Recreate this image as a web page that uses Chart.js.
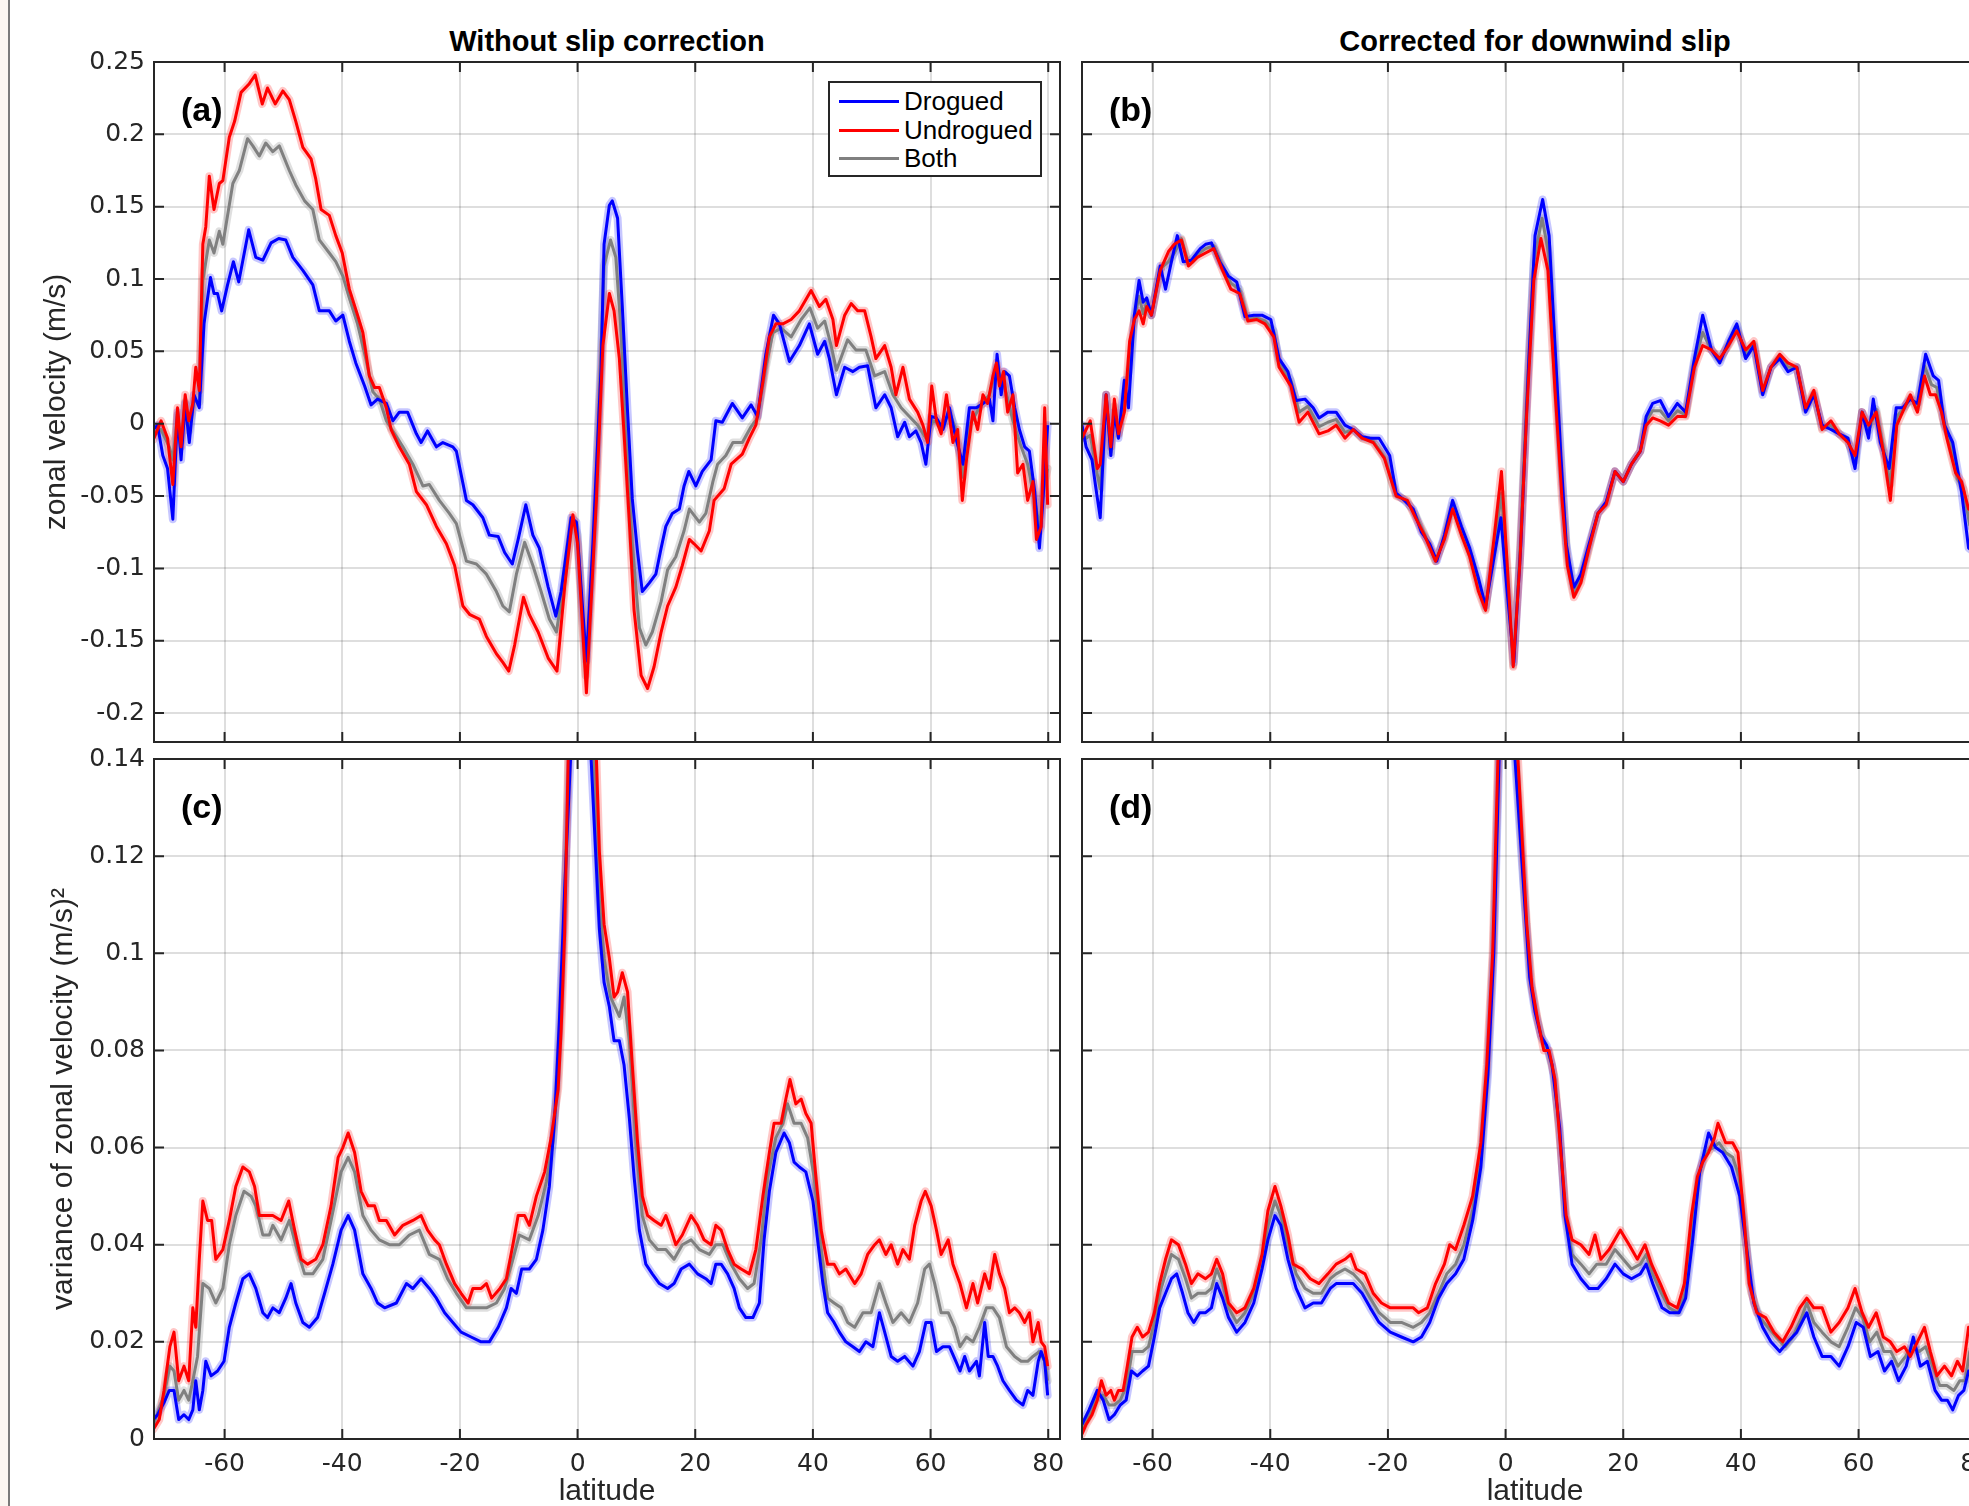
<!DOCTYPE html>
<html>
<head>
<meta charset="utf-8">
<title>Zonal velocity by latitude</title>
<script src="https://cdn.jsdelivr.net/npm/chart.js@4.4.1/dist/chart.umd.min.js"></script>
<style>
  html, body { margin: 0; padding: 0; overflow: hidden; }
  body { width: 1969px; height: 1506px; position: relative; background: #fff; font-family: "Liberation Sans", Arial, sans-serif; }
  canvas { position: absolute; }
  #strip { position: absolute; left: 0; top: 0; width: 8px; height: 1506px; background: #fbf6f1; border-right: 2px solid #7a7a7a; }
  .coltitle { position: absolute; top: 27px; width: 906px; text-align: center; font-weight: bold; font-size: 29px; line-height: 29px; color: #000; }
  #legend { position: absolute; left: 828px; top: 81px; width: 210px; height: 92px; border: 2px solid #262626; background: #fff; z-index: 5; }
  #legend .row { position: absolute; left: 0; height: 28px; line-height: 28px; font-size: 26px; color: #000; }
  #legend .swatch { position: absolute; left: 9px; width: 60px; height: 3px; top: 13px; }
  #legend .lab { position: absolute; left: 74px; white-space: nowrap; }
</style>
</head>
<body>
<div id="strip"></div>
<div class="coltitle" style="left:154px">Without slip correction</div>
<div class="coltitle" style="left:1082px">Corrected for downwind slip</div>

<canvas id="panelA" width="1070" height="750" style="left:0;top:0"></canvas>
<canvas id="panelB" width="926" height="750" style="left:1072px;top:0"></canvas>
<canvas id="panelC" width="1070" height="800" style="left:0;top:730px"></canvas>
<canvas id="panelD" width="926" height="800" style="left:1072px;top:730px"></canvas>

<div id="legend">
  <div class="row" style="top:4px"><span class="swatch" style="background:#0000ff"></span><span class="lab">Drogued</span></div>
  <div class="row" style="top:33px"><span class="swatch" style="background:#ff0000"></span><span class="lab">Undrogued</span></div>
  <div class="row" style="top:61px"><span class="swatch" style="background:#808080"></span><span class="lab">Both</span></div>
</div>

<script>
// axis ticks
const latTicks = [-60, -40, -20, 0, 20, 40, 60, 80];
const uTicks = [-0.2, -0.15, -0.1, -0.05, 0, 0.05, 0.1, 0.15, 0.2, 0.25];
const varTicks = [0, 0.02, 0.04, 0.06, 0.08, 0.1, 0.12, 0.14];

// colours: drogued, undrogued, both
const lineColors = ['#0000ff', '#ff0000', '#808080'];
const bandColors = ['rgba(0,0,255,0.22)', 'rgba(255,0,0,0.22)', 'rgba(128,128,128,0.25)'];
const lineOrder = [2, 1, 3]; // red on top, then blue, gray at the bottom

// ---- (a) zonal velocity, no slip correction: [latitude, m/s]
const droguedA = [[-72.1,-0.004],[-71.4,-0.001],[-70.5,-0.022],[-69.7,-0.031],[-68.8,-0.066],[-68.0,0.008],[-67.4,-0.025],[-66.7,0.014],[-66.0,-0.013],[-65.2,0.020],[-64.3,0.011],[-63.5,0.069],[-62.4,0.101],[-61.8,0.090],[-61.2,0.090],[-60.5,0.078],[-59.5,0.096],[-58.5,0.112],[-57.6,0.098],[-55.9,0.134],[-54.7,0.115],[-53.5,0.113],[-52.1,0.125],[-50.8,0.128],[-49.6,0.127],[-48.4,0.115],[-46.7,0.106],[-45.0,0.096],[-43.9,0.078],[-42.2,0.078],[-41.1,0.071],[-39.9,0.075],[-38.8,0.057],[-37.7,0.042],[-36.2,0.026],[-35.1,0.013],[-34.0,0.017],[-32.5,0.014],[-31.4,0.002],[-30.3,0.008],[-28.9,0.008],[-27.4,-0.007],[-26.6,-0.013],[-25.5,-0.005],[-24.0,-0.016],[-22.9,-0.013],[-21.2,-0.016],[-20.6,-0.019],[-18.9,-0.053],[-17.8,-0.056],[-16.1,-0.065],[-15.0,-0.077],[-13.5,-0.078],[-12.4,-0.089],[-11.1,-0.097],[-10.1,-0.080],[-8.8,-0.056],[-7.6,-0.077],[-6.5,-0.086],[-5.0,-0.113],[-3.7,-0.133],[-2.8,-0.116],[-1.1,-0.065],[-0.2,-0.068],[1.5,-0.164],[2.6,-0.083],[4.0,0.039],[4.5,0.124],[5.4,0.151],[5.9,0.154],[6.8,0.142],[7.6,0.081],[8.5,0.008],[9.3,-0.052],[10.2,-0.089],[11.0,-0.116],[12.2,-0.110],[13.3,-0.104],[14.2,-0.086],[15.0,-0.071],[16.1,-0.062],[17.3,-0.059],[18.1,-0.043],[18.9,-0.033],[20.1,-0.043],[21.2,-0.033],[22.7,-0.025],[23.5,0.002],[24.6,0.001],[26.3,0.014],[28.0,0.004],[29.5,0.013],[30.6,0.005],[32.0,0.048],[33.3,0.075],[34.3,0.069],[36.0,0.043],[37.7,0.054],[39.4,0.069],[40.8,0.048],[42.0,0.057],[42.8,0.045],[44.0,0.020],[45.4,0.039],[46.8,0.036],[47.9,0.039],[49.3,0.040],[50.7,0.011],[52.2,0.020],[53.3,0.011],[54.4,-0.009],[55.6,0.001],[56.4,-0.009],[57.5,-0.005],[58.4,-0.013],[59.2,-0.028],[60.1,0.005],[61.0,0.004],[62.1,-0.004],[63.2,0.011],[64.3,-0.010],[65.5,-0.028],[66.6,0.011],[67.8,0.011],[68.9,0.014],[70.0,0.017],[70.6,0.002],[71.3,0.048],[72.0,0.020],[72.6,0.036],[73.4,0.033],[74.3,0.011],[75.1,-0.004],[76.0,-0.016],[76.8,-0.019],[77.7,-0.047],[78.5,-0.086],[79.1,-0.053],[79.9,-0.001]];
const undroguedA = [[-72.1,-0.011],[-70.8,0.002],[-69.7,-0.010],[-68.8,-0.042],[-68.0,0.011],[-67.4,-0.016],[-66.7,0.020],[-66.1,0.002],[-65.4,0.014],[-64.9,0.039],[-64.3,0.023],[-63.7,0.124],[-63.2,0.136],[-62.6,0.171],[-61.8,0.148],[-60.9,0.166],[-60.3,0.168],[-59.2,0.198],[-58.3,0.209],[-57.2,0.229],[-55.8,0.235],[-54.8,0.241],[-53.6,0.221],[-52.7,0.232],[-51.4,0.221],[-50.1,0.230],[-49.0,0.224],[-47.9,0.209],[-46.7,0.191],[-45.3,0.183],[-44.5,0.169],[-43.6,0.148],[-42.2,0.144],[-41.1,0.130],[-40.0,0.118],[-38.8,0.093],[-37.4,0.075],[-36.5,0.063],[-35.4,0.033],[-34.5,0.025],[-33.7,0.025],[-32.5,0.011],[-31.7,-0.004],[-30.3,-0.016],[-28.6,-0.028],[-27.4,-0.047],[-25.7,-0.056],[-24.0,-0.071],[-22.3,-0.083],[-20.9,-0.098],[-19.5,-0.126],[-18.3,-0.132],[-16.7,-0.135],[-15.5,-0.147],[-13.8,-0.159],[-12.7,-0.165],[-11.7,-0.171],[-10.7,-0.153],[-9.2,-0.120],[-8.2,-0.132],[-6.7,-0.144],[-5.0,-0.162],[-3.5,-0.171],[-2.2,-0.113],[-0.8,-0.063],[0.0,-0.083],[1.5,-0.186],[3.2,-0.053],[4.3,0.054],[5.4,0.090],[6.2,0.078],[7.1,0.045],[7.9,-0.007],[8.8,-0.068],[9.6,-0.129],[10.8,-0.174],[11.9,-0.183],[13.0,-0.168],[14.2,-0.144],[15.3,-0.126],[16.7,-0.113],[17.8,-0.098],[19.0,-0.080],[19.8,-0.083],[21.0,-0.088],[22.4,-0.074],[23.2,-0.053],[24.9,-0.045],[26.1,-0.028],[28.0,-0.021],[29.2,-0.010],[30.3,-0.001],[31.5,0.029],[32.6,0.060],[33.7,0.069],[34.9,0.069],[36.3,0.072],[37.7,0.078],[39.7,0.092],[41.1,0.081],[42.2,0.086],[43.4,0.072],[44.0,0.054],[45.4,0.075],[46.5,0.083],[47.6,0.078],[48.8,0.078],[49.9,0.060],[50.7,0.045],[52.2,0.054],[53.3,0.039],[54.1,0.020],[55.3,0.039],[56.4,0.017],[57.8,0.008],[58.7,-0.001],[59.5,-0.013],[60.2,0.026],[61.0,0.002],[61.8,-0.007],[62.7,0.020],[63.8,-0.013],[64.6,-0.004],[65.4,-0.053],[66.1,-0.025],[67.2,0.008],[68.0,-0.004],[68.9,0.020],[69.7,0.014],[70.6,0.033],[71.2,0.042],[71.7,0.026],[72.4,0.036],[73.1,0.008],[74.0,0.020],[74.8,-0.034],[75.7,-0.028],[76.5,-0.053],[77.4,-0.040],[78.0,-0.080],[78.8,-0.071],[79.4,0.011],[79.9,-0.056]];
const bothA = [[-72.1,-0.006],[-70.8,-0.004],[-69.4,-0.016],[-68.8,-0.025],[-68.0,0.006],[-67.4,-0.012],[-66.7,0.015],[-66.0,-0.005],[-65.2,0.016],[-64.3,0.015],[-63.7,0.099],[-62.6,0.127],[-61.8,0.118],[-60.9,0.133],[-60.3,0.124],[-58.6,0.166],[-57.5,0.175],[-56.1,0.197],[-55.2,0.192],[-54.1,0.185],[-53.0,0.194],[-51.8,0.188],[-50.7,0.192],[-49.0,0.175],[-47.9,0.165],[-46.4,0.154],[-45.0,0.148],[-43.9,0.127],[-42.2,0.118],[-41.1,0.112],[-39.9,0.102],[-38.8,0.087],[-37.4,0.069],[-36.0,0.045],[-34.8,0.022],[-33.7,0.017],[-32.5,0.002],[-31.4,-0.005],[-29.7,-0.016],[-28.0,-0.028],[-26.3,-0.043],[-25.2,-0.042],[-23.5,-0.053],[-21.8,-0.062],[-20.6,-0.069],[-18.9,-0.095],[-17.2,-0.097],[-15.5,-0.104],[-13.8,-0.116],[-12.7,-0.126],[-11.6,-0.130],[-10.4,-0.104],[-9.0,-0.082],[-7.6,-0.098],[-6.2,-0.116],[-4.8,-0.135],[-3.6,-0.144],[-2.2,-0.107],[-0.8,-0.065],[0.0,-0.077],[1.4,-0.174],[2.9,-0.068],[4.5,0.109],[5.6,0.127],[6.5,0.115],[7.4,0.063],[8.2,-0.007],[9.3,-0.083],[10.5,-0.141],[11.6,-0.153],[12.7,-0.144],[14.2,-0.123],[15.3,-0.101],[16.7,-0.092],[18.1,-0.074],[19.0,-0.059],[20.7,-0.068],[21.8,-0.062],[23.0,-0.040],[23.8,-0.028],[25.2,-0.022],[26.4,-0.013],[28.0,-0.013],[29.5,-0.002],[30.6,0.004],[32.0,0.039],[33.2,0.063],[34.6,0.066],[36.3,0.060],[38.0,0.072],[39.5,0.080],[40.8,0.066],[42.0,0.071],[43.1,0.054],[44.0,0.037],[45.9,0.058],[47.3,0.051],[49.0,0.051],[50.5,0.033],[52.2,0.036],[53.6,0.020],[55.0,0.011],[56.4,0.005],[57.8,-0.001],[59.2,-0.010],[60.4,0.002],[62.1,-0.001],[63.2,0.008],[64.3,-0.004],[65.5,-0.037],[66.6,-0.001],[68.3,0.011],[70.0,0.020],[71.2,0.039],[72.6,0.026],[74.0,0.002],[75.4,-0.016],[76.5,-0.028],[77.7,-0.053],[78.5,-0.071],[79.4,-0.040],[79.9,-0.031]];

// ---- (b) zonal velocity, corrected for downwind slip
const droguedB = [[-72.0,-0.001],[-71.3,-0.016],[-70.3,-0.025],[-69.7,-0.043],[-68.9,-0.065],[-67.9,0.020],[-67.1,-0.022],[-66.5,0.008],[-65.8,-0.010],[-64.8,0.030],[-64.1,0.011],[-63.1,0.075],[-62.3,0.099],[-61.6,0.084],[-61.0,0.087],[-60.2,0.075],[-58.7,0.109],[-57.8,0.093],[-56.8,0.112],[-55.8,0.130],[-54.8,0.112],[-53.4,0.113],[-51.9,0.121],[-51.0,0.124],[-50.0,0.125],[-48.6,0.112],[-47.1,0.102],[-45.7,0.098],[-44.3,0.074],[-42.8,0.075],[-41.4,0.075],[-39.9,0.072],[-38.5,0.045],[-37.0,0.036],[-35.6,0.016],[-34.1,0.017],[-32.7,0.011],[-31.7,0.004],[-30.2,0.008],[-28.8,0.008],[-27.3,-0.001],[-25.9,-0.004],[-24.4,-0.009],[-23.0,-0.010],[-21.5,-0.010],[-19.7,-0.022],[-18.6,-0.048],[-17.2,-0.053],[-15.7,-0.059],[-14.3,-0.075],[-12.9,-0.083],[-11.7,-0.095],[-10.4,-0.077],[-9.0,-0.053],[-7.5,-0.071],[-6.1,-0.086],[-4.6,-0.107],[-3.4,-0.126],[-2.2,-0.098],[-0.8,-0.065],[0.2,-0.113],[1.4,-0.165],[2.6,-0.083],[3.9,0.039],[5.0,0.130],[6.3,0.155],[7.4,0.130],[8.4,0.054],[9.4,-0.022],[10.3,-0.083],[11.6,-0.113],[12.8,-0.104],[14.2,-0.083],[15.7,-0.062],[17.1,-0.054],[18.6,-0.033],[20.0,-0.040],[21.4,-0.028],[22.9,-0.019],[23.9,0.005],[25.0,0.014],[26.3,0.016],[27.7,0.005],[29.2,0.014],[30.6,0.008],[32.1,0.045],[33.5,0.075],[35.0,0.051],[36.4,0.042],[37.9,0.057],[39.3,0.069],[40.8,0.045],[42.2,0.054],[43.7,0.020],[45.1,0.039],[46.6,0.045],[48.0,0.036],[49.5,0.039],[51.0,0.008],[52.4,0.020],[53.8,-0.001],[55.3,-0.004],[56.7,-0.007],[58.2,-0.010],[59.4,-0.031],[60.6,0.008],[61.7,-0.010],[62.5,0.017],[63.7,-0.013],[65.2,-0.031],[66.4,0.011],[67.5,0.011],[68.8,0.017],[70.0,0.014],[71.4,0.048],[72.7,0.033],[73.6,0.030],[74.6,-0.001],[76.0,-0.013],[77.5,-0.047],[78.7,-0.086],[80.0,-0.090]];
const undroguedB = [[-72.0,-0.010],[-71.3,-0.004],[-70.6,0.002],[-69.4,-0.031],[-68.9,-0.028],[-67.9,0.020],[-67.1,-0.016],[-66.5,0.017],[-65.8,-0.007],[-64.8,0.008],[-63.9,0.057],[-63.1,0.072],[-62.3,0.078],[-61.6,0.069],[-61.0,0.081],[-60.2,0.075],[-58.7,0.106],[-57.3,0.119],[-56.3,0.124],[-55.1,0.127],[-53.9,0.109],[-52.4,0.115],[-51.0,0.118],[-49.6,0.121],[-48.1,0.106],[-46.7,0.093],[-45.2,0.090],[-43.8,0.071],[-42.3,0.072],[-40.9,0.069],[-39.4,0.060],[-38.5,0.039],[-36.5,0.026],[-35.1,0.001],[-33.6,0.008],[-31.7,-0.007],[-30.2,-0.005],[-28.8,-0.001],[-27.3,-0.010],[-25.9,-0.004],[-24.4,-0.010],[-22.5,-0.013],[-20.6,-0.024],[-18.6,-0.050],[-16.7,-0.053],[-15.3,-0.065],[-13.8,-0.077],[-11.9,-0.095],[-10.4,-0.080],[-9.0,-0.059],[-7.5,-0.077],[-6.1,-0.092],[-4.6,-0.116],[-3.4,-0.129],[-1.9,-0.077],[-0.7,-0.033],[0.2,-0.092],[1.3,-0.168],[2.4,-0.098],[3.6,0.008],[4.8,0.099],[6.0,0.128],[7.2,0.106],[8.4,0.023],[9.6,-0.053],[10.5,-0.098],[11.6,-0.120],[12.8,-0.110],[14.2,-0.086],[15.7,-0.062],[17.1,-0.056],[18.6,-0.033],[20.0,-0.040],[21.4,-0.028],[22.9,-0.019],[23.9,-0.001],[25.0,0.004],[26.3,0.002],[27.7,-0.001],[29.2,0.005],[30.6,0.005],[32.1,0.039],[33.5,0.054],[35.0,0.051],[36.4,0.045],[37.9,0.054],[39.3,0.064],[40.8,0.051],[42.2,0.057],[43.7,0.023],[45.1,0.039],[46.6,0.048],[48.0,0.042],[49.5,0.039],[51.0,0.011],[52.4,0.023],[53.8,-0.004],[55.3,0.002],[56.7,-0.007],[58.2,-0.013],[59.4,-0.022],[60.6,0.008],[61.7,-0.001],[63.0,0.008],[64.2,-0.019],[65.4,-0.053],[66.5,-0.001],[67.8,0.011],[68.8,0.020],[70.0,0.008],[71.2,0.033],[72.2,0.020],[73.1,0.020],[74.1,0.008],[75.0,-0.010],[76.5,-0.034],[77.5,-0.040],[78.7,-0.059],[80.0,-0.062]];
const bothB = [[-72.0,-0.008],[-71.3,-0.010],[-70.6,-0.008],[-69.4,-0.035],[-68.9,-0.045],[-67.9,0.020],[-67.1,-0.020],[-66.5,0.012],[-65.8,-0.008],[-64.8,0.020],[-63.9,0.040],[-63.1,0.073],[-62.3,0.088],[-61.6,0.076],[-61.0,0.084],[-60.2,0.075],[-58.7,0.107],[-57.3,0.112],[-56.3,0.118],[-55.1,0.128],[-53.9,0.111],[-52.4,0.117],[-51.0,0.121],[-49.6,0.123],[-48.1,0.109],[-46.7,0.097],[-45.2,0.093],[-43.8,0.072],[-42.3,0.073],[-40.9,0.071],[-39.4,0.064],[-38.5,0.042],[-36.5,0.030],[-35.1,0.008],[-33.6,0.012],[-31.7,-0.002],[-30.2,0.001],[-28.8,0.003],[-27.3,-0.006],[-25.9,-0.004],[-24.4,-0.010],[-22.5,-0.012],[-20.6,-0.023],[-18.6,-0.049],[-16.7,-0.054],[-15.3,-0.063],[-13.8,-0.076],[-11.9,-0.095],[-10.4,-0.079],[-9.0,-0.056],[-7.5,-0.074],[-6.1,-0.089],[-4.6,-0.112],[-3.4,-0.128],[-1.9,-0.085],[-0.7,-0.048],[0.2,-0.100],[1.3,-0.167],[2.4,-0.092],[3.6,0.020],[4.8,0.112],[6.2,0.142],[7.3,0.118],[8.4,0.040],[9.6,-0.040],[10.5,-0.092],[11.6,-0.117],[12.8,-0.107],[14.2,-0.085],[15.7,-0.062],[17.1,-0.055],[18.6,-0.033],[20.0,-0.040],[21.4,-0.028],[22.9,-0.019],[23.9,0.002],[25.0,0.009],[26.3,0.009],[27.7,0.002],[29.2,0.009],[30.6,0.006],[32.1,0.042],[33.5,0.063],[35.0,0.051],[36.4,0.044],[37.9,0.055],[39.3,0.066],[40.8,0.048],[42.2,0.055],[43.7,0.022],[45.1,0.039],[46.6,0.046],[48.0,0.039],[49.5,0.039],[51.0,0.010],[52.4,0.021],[53.8,-0.003],[55.3,-0.001],[56.7,-0.007],[58.2,-0.012],[59.4,-0.026],[60.6,0.008],[61.7,-0.005],[63.0,0.010],[64.2,-0.016],[65.4,-0.042],[66.5,0.005],[67.8,0.011],[68.8,0.018],[70.0,0.011],[71.2,0.040],[72.4,0.027],[73.3,0.025],[74.3,0.004],[75.5,-0.011],[76.8,-0.038],[77.8,-0.045],[78.9,-0.070],[80.0,-0.075]];

// ---- (c) variance of zonal velocity, no slip correction: [latitude, (m/s)^2]
const droguedC = [[-72.1,0.004],[-71.4,0.005],[-70.3,0.0075],[-69.4,0.010],[-68.6,0.010],[-67.8,0.004],[-66.9,0.005],[-66.1,0.004],[-65.4,0.006],[-64.9,0.012],[-64.3,0.006],[-63.7,0.010],[-63.2,0.016],[-62.3,0.013],[-61.2,0.014],[-60.1,0.016],[-59.2,0.023],[-58.1,0.028],[-56.9,0.033],[-55.8,0.034],[-54.7,0.031],[-53.5,0.026],[-52.7,0.025],[-51.8,0.027],[-50.7,0.026],[-49.6,0.029],[-48.7,0.032],[-47.9,0.028],[-46.7,0.024],[-45.6,0.023],[-44.2,0.025],[-43.0,0.030],[-41.6,0.036],[-40.2,0.043],[-39.0,0.046],[-37.9,0.043],[-36.5,0.034],[-35.1,0.031],[-34.0,0.028],[-32.8,0.027],[-30.8,0.028],[-29.1,0.032],[-28.0,0.031],[-26.6,0.033],[-25.2,0.031],[-24.0,0.029],[-22.6,0.026],[-21.2,0.024],[-19.8,0.022],[-18.1,0.021],[-16.4,0.020],[-15.0,0.020],[-13.5,0.023],[-12.1,0.027],[-11.3,0.031],[-10.4,0.030],[-9.5,0.035],[-8.2,0.035],[-7.0,0.037],[-5.9,0.043],[-4.8,0.052],[-3.9,0.066],[-3.1,0.086],[-2.2,0.113],[-1.2,0.140],[0.5,0.300],[2.3,0.140],[3.7,0.105],[4.5,0.094],[5.4,0.089],[6.2,0.082],[7.1,0.082],[7.9,0.077],[8.8,0.066],[9.6,0.054],[10.5,0.043],[11.6,0.036],[12.7,0.034],[13.9,0.032],[15.3,0.031],[16.4,0.032],[17.6,0.035],[19.0,0.036],[20.4,0.034],[21.8,0.033],[22.7,0.032],[23.5,0.036],[24.4,0.036],[25.5,0.034],[26.6,0.031],[27.5,0.027],[28.6,0.025],[29.8,0.025],[30.9,0.028],[31.7,0.041],[32.6,0.051],[33.7,0.059],[35.1,0.063],[36.0,0.061],[36.8,0.057],[37.7,0.056],[38.8,0.055],[40.0,0.049],[40.8,0.041],[41.7,0.032],[42.5,0.026],[43.6,0.024],[44.5,0.022],[45.6,0.020],[46.8,0.019],[47.9,0.018],[49.0,0.020],[50.2,0.019],[51.3,0.026],[52.2,0.022],[53.3,0.017],[54.4,0.016],[55.6,0.017],[57.0,0.015],[58.1,0.018],[59.2,0.024],[60.1,0.024],[61.0,0.018],[62.1,0.019],[63.2,0.019],[64.3,0.016],[65.0,0.014],[65.8,0.017],[66.6,0.014],[67.8,0.016],[68.3,0.013],[69.2,0.024],[69.8,0.017],[70.6,0.017],[71.4,0.015],[72.3,0.012],[73.4,0.010],[74.6,0.008],[75.7,0.007],[76.5,0.010],[77.4,0.009],[78.3,0.016],[78.8,0.018],[79.4,0.016],[79.9,0.009]];
const undroguedC = [[-72.1,0.002],[-71.1,0.004],[-70.3,0.010],[-69.3,0.019],[-68.6,0.022],[-67.8,0.012],[-66.9,0.015],[-66.1,0.012],[-65.4,0.027],[-64.9,0.023],[-64.3,0.037],[-63.7,0.049],[-62.9,0.045],[-62.2,0.045],[-61.5,0.037],[-60.3,0.039],[-59.2,0.045],[-58.1,0.052],[-56.9,0.056],[-55.8,0.055],[-54.9,0.052],[-54.1,0.046],[-52.9,0.046],[-51.8,0.046],[-50.4,0.045],[-49.1,0.049],[-48.1,0.043],[-47.0,0.037],[-45.9,0.036],[-44.5,0.037],[-43.3,0.040],[-41.9,0.048],[-40.7,0.058],[-39.9,0.060],[-39.0,0.063],[-37.9,0.059],[-36.8,0.051],[-35.6,0.048],[-34.5,0.048],[-33.7,0.045],[-32.5,0.045],[-31.1,0.042],[-29.7,0.044],[-28.0,0.045],[-26.6,0.046],[-25.5,0.043],[-24.3,0.041],[-23.5,0.040],[-22.3,0.036],[-20.9,0.032],[-19.8,0.030],[-18.6,0.028],[-17.8,0.031],[-16.4,0.031],[-15.5,0.032],[-14.6,0.029],[-13.2,0.031],[-12.1,0.033],[-11.0,0.040],[-10.1,0.046],[-9.0,0.046],[-8.2,0.044],[-7.0,0.050],[-5.6,0.055],[-4.5,0.062],[-3.3,0.072],[-2.8,0.084],[-2.2,0.104],[-1.6,0.140],[-0.5,0.250],[1.0,0.300],[2.5,0.180],[3.2,0.140],[3.7,0.121],[4.5,0.106],[5.4,0.099],[6.2,0.091],[6.8,0.092],[7.6,0.096],[8.5,0.092],[9.3,0.077],[10.2,0.061],[11.0,0.050],[11.9,0.046],[13.0,0.045],[14.2,0.044],[15.0,0.046],[15.9,0.043],[16.7,0.040],[17.8,0.042],[19.3,0.046],[20.4,0.044],[21.5,0.041],[22.7,0.040],[23.5,0.044],[24.4,0.043],[25.5,0.039],[26.6,0.036],[27.8,0.035],[29.2,0.034],[30.3,0.039],[31.5,0.050],[32.6,0.059],[33.4,0.065],[34.6,0.065],[35.4,0.070],[36.1,0.074],[37.1,0.069],[38.0,0.070],[38.8,0.067],[39.7,0.065],[40.5,0.054],[41.4,0.043],[42.5,0.036],[43.6,0.036],[44.5,0.034],[45.6,0.035],[47.1,0.032],[48.2,0.034],[49.3,0.038],[50.5,0.040],[51.3,0.041],[52.4,0.038],[53.3,0.040],[54.4,0.036],[55.3,0.039],[56.4,0.037],[57.3,0.044],[58.4,0.049],[59.1,0.051],[60.1,0.048],[61.0,0.043],[61.8,0.038],[63.0,0.041],[63.8,0.036],[65.0,0.032],[66.1,0.027],[67.2,0.032],[68.0,0.028],[69.2,0.034],[70.0,0.031],[70.9,0.038],[71.7,0.034],[72.6,0.031],[73.4,0.026],[74.3,0.027],[75.1,0.026],[76.0,0.024],[76.8,0.026],[77.4,0.020],[78.3,0.024],[78.8,0.020],[79.4,0.019],[79.9,0.015]];
const bothC = [[-72.1,0.003],[-70.3,0.009],[-69.3,0.015],[-68.6,0.014],[-67.8,0.008],[-66.9,0.010],[-66.1,0.008],[-65.4,0.012],[-64.6,0.017],[-63.7,0.032],[-62.6,0.031],[-61.5,0.028],[-60.3,0.031],[-59.2,0.040],[-58.1,0.046],[-56.7,0.051],[-55.5,0.050],[-54.7,0.048],[-53.5,0.042],[-52.4,0.042],[-51.8,0.044],[-50.4,0.041],[-49.0,0.045],[-47.9,0.040],[-46.4,0.034],[-45.0,0.034],[-43.3,0.037],[-41.9,0.045],[-40.2,0.055],[-39.0,0.058],[-37.9,0.055],[-36.5,0.046],[-35.1,0.043],[-33.7,0.041],[-32.0,0.040],[-30.3,0.040],[-28.6,0.042],[-26.9,0.043],[-25.2,0.038],[-23.5,0.037],[-22.1,0.033],[-20.6,0.030],[-18.9,0.027],[-17.2,0.027],[-15.5,0.027],[-13.8,0.028],[-12.4,0.031],[-11.0,0.037],[-9.9,0.042],[-8.2,0.041],[-6.7,0.046],[-5.3,0.053],[-4.2,0.061],[-3.3,0.075],[-2.5,0.100],[-1.5,0.140],[0.7,0.300],[2.8,0.140],[3.7,0.111],[4.5,0.099],[5.6,0.091],[7.1,0.087],[7.9,0.091],[8.8,0.082],[9.9,0.061],[11.0,0.046],[12.2,0.041],[13.6,0.039],[15.0,0.039],[16.4,0.037],[17.8,0.040],[19.3,0.041],[20.7,0.039],[22.4,0.038],[23.5,0.040],[24.7,0.040],[26.1,0.036],[27.5,0.033],[28.9,0.031],[30.0,0.032],[31.2,0.041],[32.3,0.054],[33.7,0.062],[34.9,0.065],[35.7,0.069],[36.8,0.065],[38.0,0.065],[39.1,0.062],[40.2,0.054],[41.4,0.039],[42.5,0.029],[43.6,0.028],[44.8,0.027],[45.9,0.024],[47.1,0.023],[48.5,0.026],[49.9,0.026],[51.3,0.032],[52.4,0.028],[53.6,0.024],[55.0,0.026],[56.4,0.024],[57.8,0.028],[59.0,0.035],[59.8,0.036],[60.7,0.032],[61.8,0.026],[63.0,0.026],[64.1,0.023],[65.0,0.019],[66.1,0.021],[67.2,0.020],[68.3,0.023],[69.5,0.027],[70.6,0.027],[71.7,0.025],[72.9,0.019],[74.3,0.017],[75.4,0.016],[76.5,0.016],[77.4,0.017],[78.5,0.018],[79.4,0.016],[79.9,0.012]];

// ---- (d) variance of zonal velocity, corrected for downwind slip
const droguedD = [[-72.0,0.003],[-70.8,0.006],[-69.4,0.010],[-68.4,0.008],[-67.4,0.004],[-66.5,0.005],[-65.5,0.007],[-64.5,0.008],[-63.6,0.014],[-62.6,0.013],[-61.7,0.014],[-60.7,0.015],[-59.7,0.021],[-58.8,0.027],[-57.8,0.030],[-56.8,0.033],[-55.9,0.034],[-54.9,0.030],[-54.0,0.026],[-53.0,0.024],[-52.0,0.026],[-51.0,0.026],[-50.0,0.027],[-49.1,0.032],[-48.1,0.029],[-47.1,0.025],[-45.7,0.022],[-44.3,0.024],[-42.8,0.028],[-41.4,0.035],[-40.4,0.041],[-39.2,0.046],[-38.2,0.044],[-37.0,0.037],[-35.6,0.031],[-34.1,0.027],[-32.7,0.028],[-31.3,0.028],[-29.8,0.031],[-28.8,0.032],[-27.3,0.032],[-25.9,0.032],[-24.4,0.030],[-23.0,0.027],[-21.5,0.024],[-19.6,0.022],[-17.7,0.021],[-15.7,0.020],[-14.3,0.021],[-12.9,0.024],[-11.4,0.029],[-10.0,0.032],[-8.5,0.034],[-7.1,0.037],[-5.6,0.045],[-4.2,0.056],[-3.0,0.075],[-2.0,0.100],[-1.1,0.140],[0.3,0.300],[1.6,0.140],[3.1,0.113],[4.1,0.095],[5.0,0.088],[6.0,0.083],[7.0,0.081],[7.9,0.077],[9.2,0.064],[10.1,0.046],[11.3,0.036],[12.8,0.033],[14.2,0.031],[15.7,0.031],[17.1,0.033],[18.6,0.036],[20.0,0.034],[21.4,0.033],[22.9,0.034],[23.9,0.036],[25.0,0.032],[26.6,0.027],[27.9,0.026],[29.5,0.026],[30.6,0.029],[31.8,0.041],[33.0,0.055],[34.5,0.063],[35.7,0.060],[36.9,0.059],[38.4,0.056],[39.8,0.050],[41.1,0.038],[42.2,0.028],[43.7,0.023],[45.1,0.020],[46.6,0.018],[48.0,0.020],[49.5,0.022],[51.2,0.026],[52.4,0.021],[53.8,0.017],[55.3,0.017],[56.7,0.015],[58.2,0.019],[59.6,0.024],[60.8,0.023],[62.0,0.017],[63.3,0.018],[64.4,0.014],[65.6,0.016],[66.8,0.012],[68.1,0.015],[69.3,0.021],[70.5,0.015],[71.7,0.016],[73.0,0.010],[74.1,0.008],[75.1,0.008],[76.0,0.006],[77.0,0.009],[77.9,0.010],[78.7,0.014],[80.0,0.013]];
const undroguedD = [[-72.0,0.001],[-71.3,0.003],[-70.3,0.005],[-69.4,0.008],[-68.7,0.012],[-67.9,0.009],[-67.1,0.010],[-66.5,0.008],[-65.8,0.010],[-65.0,0.010],[-64.3,0.015],[-63.5,0.021],[-62.6,0.023],[-61.7,0.021],[-60.7,0.022],[-59.7,0.026],[-58.8,0.032],[-57.8,0.037],[-56.8,0.041],[-55.6,0.040],[-54.4,0.036],[-53.4,0.032],[-52.3,0.034],[-51.0,0.033],[-50.0,0.034],[-49.1,0.037],[-48.1,0.034],[-47.1,0.028],[-45.7,0.026],[-44.3,0.027],[-42.8,0.031],[-41.4,0.038],[-40.4,0.047],[-39.2,0.052],[-38.2,0.048],[-37.0,0.042],[-36.1,0.036],[-34.6,0.035],[-33.2,0.033],[-31.7,0.032],[-30.2,0.034],[-28.8,0.036],[-27.3,0.037],[-26.3,0.038],[-25.4,0.035],[-23.9,0.034],[-22.5,0.030],[-21.1,0.028],[-19.6,0.027],[-18.2,0.027],[-17.2,0.027],[-15.7,0.027],[-14.8,0.026],[-13.3,0.027],[-11.9,0.032],[-10.4,0.036],[-9.5,0.040],[-8.5,0.039],[-7.1,0.044],[-5.6,0.050],[-4.2,0.061],[-3.2,0.077],[-2.2,0.100],[-1.3,0.140],[0.2,0.300],[1.5,0.200],[2.1,0.140],[3.6,0.106],[4.5,0.093],[5.5,0.086],[6.5,0.080],[7.4,0.080],[8.4,0.074],[9.4,0.059],[10.3,0.046],[11.3,0.041],[12.8,0.040],[14.2,0.038],[15.2,0.042],[16.2,0.037],[17.6,0.039],[19.5,0.043],[21.0,0.040],[22.4,0.037],[23.7,0.040],[24.8,0.036],[26.3,0.032],[27.7,0.028],[29.2,0.027],[30.4,0.032],[31.6,0.046],[32.6,0.054],[33.5,0.057],[34.5,0.059],[35.5,0.062],[36.1,0.065],[37.4,0.061],[38.6,0.061],[39.5,0.059],[40.5,0.046],[41.4,0.032],[42.7,0.026],[44.2,0.025],[45.6,0.022],[47.1,0.020],[48.5,0.023],[50.0,0.027],[51.2,0.029],[52.4,0.027],[53.8,0.027],[55.3,0.022],[56.7,0.024],[58.2,0.027],[59.4,0.031],[60.6,0.026],[61.7,0.023],[63.0,0.026],[64.2,0.021],[65.4,0.020],[66.5,0.018],[67.8,0.019],[68.8,0.017],[70.0,0.020],[71.2,0.023],[72.2,0.018],[73.3,0.013],[74.6,0.015],[75.8,0.013],[76.8,0.016],[77.7,0.014],[78.7,0.023],[80.0,0.022]];
const bothD = [[-72.0,0.002],[-70.3,0.006],[-69.4,0.009],[-68.4,0.009],[-67.4,0.007],[-66.5,0.007],[-65.5,0.008],[-64.4,0.011],[-63.5,0.018],[-62.6,0.018],[-61.7,0.018],[-60.7,0.019],[-59.7,0.024],[-58.8,0.030],[-57.8,0.034],[-56.8,0.038],[-55.6,0.037],[-54.4,0.033],[-53.4,0.029],[-52.3,0.030],[-51.0,0.030],[-50.0,0.031],[-49.1,0.035],[-48.1,0.032],[-47.1,0.027],[-45.7,0.024],[-44.3,0.026],[-42.8,0.030],[-41.4,0.037],[-40.4,0.044],[-39.2,0.049],[-38.2,0.046],[-37.0,0.040],[-35.6,0.034],[-34.1,0.031],[-32.7,0.030],[-31.3,0.030],[-29.8,0.033],[-28.8,0.034],[-27.3,0.035],[-25.9,0.034],[-24.4,0.032],[-23.0,0.029],[-21.5,0.026],[-19.6,0.024],[-17.7,0.024],[-15.7,0.023],[-14.3,0.024],[-12.9,0.026],[-11.4,0.030],[-10.0,0.034],[-8.5,0.036],[-7.1,0.040],[-5.6,0.047],[-4.2,0.058],[-3.1,0.076],[-2.1,0.100],[-1.2,0.140],[0.3,0.300],[1.8,0.140],[3.3,0.110],[4.3,0.094],[5.3,0.087],[6.3,0.082],[7.2,0.080],[8.2,0.075],[9.3,0.061],[10.2,0.046],[11.3,0.038],[12.8,0.036],[14.2,0.034],[15.5,0.036],[17.1,0.036],[18.6,0.039],[20.0,0.037],[21.4,0.035],[22.9,0.036],[23.9,0.038],[25.0,0.034],[26.5,0.030],[27.8,0.027],[29.3,0.026],[30.5,0.030],[31.7,0.043],[32.8,0.054],[34.0,0.059],[35.3,0.060],[36.3,0.061],[37.4,0.059],[38.6,0.058],[39.7,0.054],[40.8,0.042],[41.8,0.030],[43.2,0.025],[44.6,0.023],[46.0,0.021],[47.5,0.019],[48.8,0.021],[50.3,0.025],[51.2,0.028],[52.4,0.024],[53.8,0.022],[55.3,0.020],[56.7,0.019],[58.2,0.023],[59.5,0.027],[60.7,0.025],[61.9,0.020],[63.1,0.022],[64.3,0.018],[65.5,0.018],[66.7,0.015],[68.0,0.017],[69.1,0.019],[70.3,0.018],[71.4,0.019],[72.6,0.015],[73.8,0.011],[75.0,0.011],[76.2,0.010],[77.2,0.012],[78.1,0.012],[78.9,0.018],[80.0,0.017]];

const ink = '#262626';
const gridColor = 'rgba(0,0,0,0.13)';
const tickFont = { family: 'DejaVu Sans', size: 25 };
const labelFont = { family: 'Liberation Sans', size: 30 };

// box round the plot, MATLAB-style inward ticks on every side, and the panel letter
const framePlugin = {
  id: 'frame',
  afterDraw(chart, args, opts) {
    const { ctx, chartArea: a, scales: { x, y } } = chart;
    ctx.save();
    ctx.strokeStyle = ink;
    ctx.lineWidth = 2;
    ctx.beginPath();
    x.ticks.forEach(t => {
      const px = x.getPixelForValue(t.value);
      ctx.moveTo(px, a.bottom); ctx.lineTo(px, a.bottom - 10);
      ctx.moveTo(px, a.top); ctx.lineTo(px, a.top + 10);
    });
    y.ticks.forEach(t => {
      const py = y.getPixelForValue(t.value);
      ctx.moveTo(a.left, py); ctx.lineTo(a.left + 10, py);
      ctx.moveTo(a.right, py); ctx.lineTo(a.right - 10, py);
    });
    ctx.stroke();
    ctx.strokeRect(a.left, a.top, a.right - a.left, a.bottom - a.top);
    ctx.fillStyle = '#000';
    ctx.font = 'bold 34px "Liberation Sans"';
    ctx.textAlign = 'left';
    ctx.textBaseline = 'middle';
    ctx.fillText(opts.letter, a.left + 27, a.top + 50);
    ctx.restore();
  }
};

// keep the plot box where the layout padding puts it, whatever the tick labels need
function noLabelPadding(s) {
  s.paddingTop = 0; s.paddingBottom = 0; s.paddingLeft = 0; s.paddingRight = 0;
}

function makePanel(id, series, cfg) {
  const datasets = [];
  series.forEach((pts, i) => {
    const data = pts.map(p => ({ x: p[0], y: p[1] }));
    // the line itself
    datasets.push({ data, borderColor: lineColors[i], borderWidth: 3, order: lineOrder[i],
                    borderJoinStyle: 'round', clip: 0 });
    // shaded error band underneath
    datasets.push({ data, borderColor: bandColors[i], borderWidth: 8, order: 10 + lineOrder[i],
                    borderJoinStyle: 'round', borderCapStyle: 'round', clip: 0 });
  });

  new Chart(document.getElementById(id), {
    type: 'line',
    data: { datasets },
    options: {
      responsive: false,
      animation: false,
      events: [],
      layout: { padding: cfg.padding },
      elements: { point: { radius: 0 }, line: { tension: 0 } },
      plugins: { legend: { display: false }, tooltip: { enabled: false }, frame: { letter: cfg.letter } },
      scales: {
        x: {
          type: 'linear', min: -72, max: 82,
          afterBuildTicks: s => { s.ticks = latTicks.map(v => ({ value: v })); },
          afterFit: s => { s.height = cfg.xHeight; noLabelPadding(s); },
          grid: { color: gridColor, lineWidth: 2, drawTicks: false },
          border: { display: false },
          ticks: { display: cfg.xLabels, font: tickFont, color: ink, padding: 10,
                   maxRotation: 0, autoSkip: false, callback: v => String(v) },
          title: { display: cfg.xLabels, text: 'latitude', font: labelFont, color: ink,
                   padding: { top: 0, bottom: 20 } }
        },
        y: {
          type: 'linear', min: cfg.yMin, max: cfg.yMax,
          afterBuildTicks: s => { s.ticks = cfg.yTicks.map(v => ({ value: v })); },
          afterFit: s => { s.width = cfg.yWidth; noLabelPadding(s); },
          grid: { color: gridColor, lineWidth: 2, drawTicks: false },
          border: { display: false },
          ticks: { display: !!cfg.yTitle, font: tickFont, color: ink, padding: 9,
                   autoSkip: false, callback: v => String(v) },
          title: { display: !!cfg.yTitle, text: cfg.yTitle || '', font: labelFont, color: ink,
                   padding: { top: cfg.yTitlePad || 0, bottom: 0 } }
        }
      }
    },
    plugins: [framePlugin]
  });
}

makePanel('panelA', [droguedA, undroguedA, bothA], {
  letter: '(a)', yMin: -0.22, yMax: 0.25, yTicks: uTicks, yWidth: 154, xHeight: 0, xLabels: false,
  yTitle: 'zonal velocity (m/s)', yTitlePad: 39,
  padding: { left: 0, top: 62, right: 10, bottom: 8 }
});
makePanel('panelB', [droguedB, undroguedB, bothB], {
  letter: '(b)', yMin: -0.22, yMax: 0.25, yTicks: uTicks, yWidth: 10, xHeight: 0, xLabels: false,
  padding: { left: 0, top: 62, right: 10, bottom: 8 }
});
makePanel('panelC', [droguedC, undroguedC, bothC], {
  letter: '(c)', yMin: 0, yMax: 0.14, yTicks: varTicks, yWidth: 154, xHeight: 91, xLabels: true,
  yTitle: 'variance of zonal velocity (m/s)²', yTitlePad: 46,
  padding: { left: 0, top: 29, right: 10, bottom: 0 }
});
makePanel('panelD', [droguedD, undroguedD, bothD], {
  letter: '(d)', yMin: 0, yMax: 0.14, yTicks: varTicks, yWidth: 10, xHeight: 91, xLabels: true,
  padding: { left: 0, top: 29, right: 10, bottom: 0 }
});
</script>
</body>
</html>
